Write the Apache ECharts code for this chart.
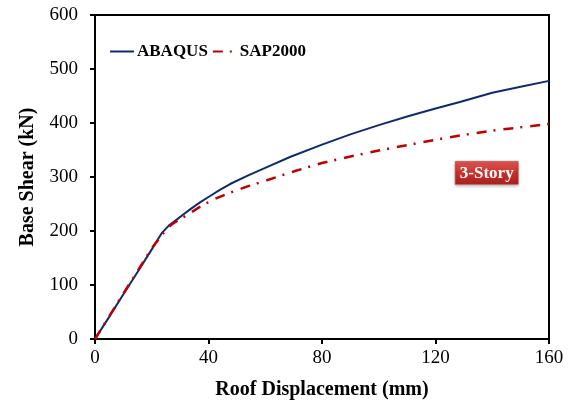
<!DOCTYPE html>
<html>
<head>
<meta charset="utf-8">
<script src="https://cdn.jsdelivr.net/npm/echarts@6/dist/echarts.min.js"></script>
<style>
html, body { margin: 0; padding: 0; background: #fff; }
#main { width: 571px; height: 405px; }
</style>
</head>
<body>
<div id="main"></div>
<script>
// ABAQUS pushover curve
var abaqusDisp = [0, 5, 10, 15, 20, 23.5, 26, 28.8, 31, 33.5, 37, 40, 44, 47.6, 54, 60, 68.7, 80, 90, 100, 110, 120, 128.6, 140, 150, 160];
var abaqusShear = [0, 41, 83, 124, 166, 196, 210, 221, 230, 240, 253, 263, 276, 287, 303, 317, 337, 360, 379, 396, 412, 427, 439, 456, 467, 478];
// SAP2000 pushover curve
var sapDisp = [0, 5, 10, 15, 20, 25, 27, 29.4, 33.5, 37, 42, 47.6, 54, 60, 70.5, 80, 90, 100, 110, 120, 130, 140, 150, 160];
var sapShear = [0, 42, 84, 126, 168, 202, 212, 220, 233, 245, 259, 271, 283, 293, 311, 326, 338, 349, 359, 369, 378, 386, 392, 398];
var xTicks = [0, 40, 80, 120, 160];
var yTicks = [0, 100, 200, 300, 400, 500, 600];

function pairs(xs, ys) {
    return xs.map(function (x, i) { return [x, ys[i]]; });
}

var font = 'Liberation Serif';
var myChart = echarts.init(document.getElementById('main'));
var option = {
    backgroundColor: '#fff',
    animation: false,
    grid: {
        left: 95, right: 22, top: 15, bottom: 66,
        show: true,
        borderColor: '#000',
        borderWidth: 2
    },
    legend: {
        left: 104, top: 38,
        itemWidth: 24, itemHeight: 10,
        itemGap: 4,
        itemStyle: {opacity: 0},
        textStyle: {fontFamily: font, fontWeight: 'bold', fontSize: 17, color: '#000', padding: [0, 0, 0, -2]},
        data: ['ABAQUS', 'SAP2000']
    },
    xAxis: {
        type: 'value',
        min: 0, max: 160, interval: 40,
        name: 'Roof Displacement (mm)',
        nameLocation: 'middle',
        nameGap: 41,
        nameTextStyle: {fontFamily: font, fontWeight: 'bold', fontSize: 20, color: '#000'},
        axisLine: {lineStyle: {color: '#000', width: 2}},
        axisTick: {show: true, length: 5, lineStyle: {color: '#000', width: 2}},
        axisLabel: {fontFamily: font, fontSize: 19, color: '#000', margin: 10,
            formatter: function (v) { return xTicks.indexOf(v) >= 0 ? v : ''; }},
        splitLine: {show: false}
    },
    yAxis: {
        type: 'value',
        min: 0, max: 600, interval: 100,
        name: 'Base Shear (kN)',
        nameLocation: 'middle',
        nameGap: 57,
        nameTextStyle: {fontFamily: font, fontWeight: 'bold', fontSize: 20, color: '#000'},
        axisLine: {lineStyle: {color: '#000', width: 2}},
        axisTick: {show: true, length: 5, lineStyle: {color: '#000', width: 2}},
        axisLabel: {fontFamily: font, fontSize: 19, color: '#000', margin: 17,
            formatter: function (v) { return yTicks.indexOf(v) >= 0 ? v : ''; }},
        splitLine: {show: false}
    },
    series: [
        {
            name: 'ABAQUS',
            type: 'line',
            data: pairs(abaqusDisp, abaqusShear),
            symbol: 'none',
            lineStyle: {color: '#0f2a6e', width: 2},
            itemStyle: {color: '#0f2a6e'},
            z: 3
        },
        {
            name: 'SAP2000',
            type: 'line',
            data: pairs(sapDisp, sapShear),
            symbol: 'none',
            lineStyle: {color: '#c00000', width: 2.5, type: [10, 7, 2, 8]},
            itemStyle: {color: '#c00000'},
            z: 4
        }
    ],
    graphic: [
        {
            type: 'group',
            left: 455, top: 161,
            children: [
                {
                    type: 'rect',
                    shape: {x: 0, y: 0, width: 63, height: 23},
                    style: {
                        fill: new echarts.graphic.LinearGradient(0, 0, 0, 1, [
                            {offset: 0, color: '#e05a56'},
                            {offset: 0.5, color: '#c9302c'},
                            {offset: 1, color: '#a8201d'}
                        ]),
                        stroke: '#b33a36',
                        lineWidth: 0.5,
                        shadowBlur: 3,
                        shadowOffsetY: 2,
                        shadowColor: 'rgba(0,0,0,0.35)'
                    }
                },
                {
                    type: 'text',
                    x: 31.5, y: 12,
                    style: {
                        text: '3-Story',
                        fill: '#fff',
                        font: 'bold 17px "Liberation Serif"',
                        align: 'center',
                        verticalAlign: 'middle'
                    }
                }
            ]
        }
    ]
};
myChart.setOption(option);
window.onresize = myChart.resize;
</script>
</body>
</html>
